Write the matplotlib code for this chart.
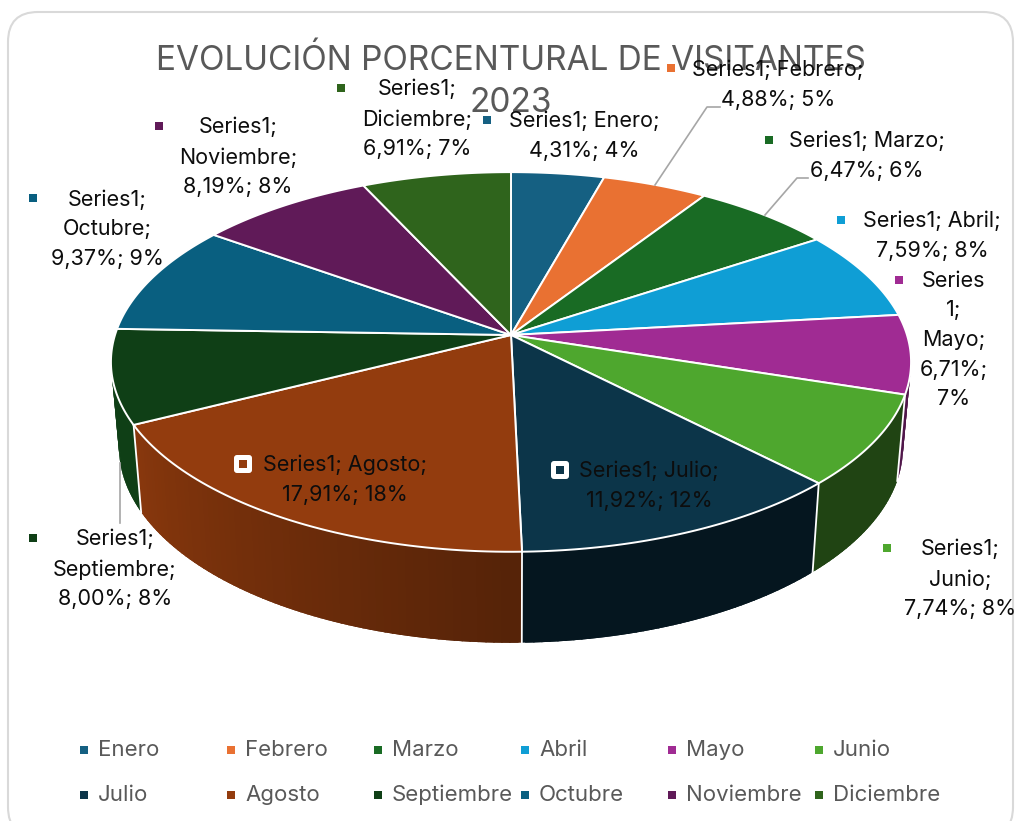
import numpy as np
import matplotlib
matplotlib.use("Agg")
import matplotlib.pyplot as plt
from matplotlib.collections import PolyCollection
from matplotlib.patches import FancyBboxPatch, Polygon

plt.rcParams['font.family'] = ['Inter', 'DejaVu Sans']

meses = ["Enero", "Febrero", "Marzo", "Abril", "Mayo", "Junio", "Julio",
         "Agosto", "Septiembre", "Octubre", "Noviembre", "Diciembre"]
porcentajes = [4.31, 4.88, 6.47, 7.59, 6.71, 7.74, 11.92, 17.91, 8.00, 9.37, 8.19, 6.91]
redondeados = [4, 5, 6, 8, 7, 8, 12, 18, 8, 9, 8, 7]
colores = ["#156082", "#E97132", "#196B24", "#0F9ED5", "#A02B93", "#4EA72E",
           "#0C3549", "#933C0E", "#0F3F16", "#095F80", "#601A58", "#2F641C"]
titulo = "EVOLUCIÓN PORCENTURAL DE VISITANTES\n2023"

# factor de oscuridad de la pared lateral (inicio, fin de cada porción)
sombra = [(.5, .5), (.5, .5), (.5, .5), (.5, .5), (.5, .5), (.41, .41),
          (.42, .42), (.58, .93), (1, 1), (1, 1), (1, 1), (1, 1)]

# texto de cada etiqueta: saltos de línea como en el original
etiquetas = ["Series1; Enero;\n{}", "Series1; Febrero;\n{}", "Series1; Marzo;\n{}",
             "Series1; Abril;\n{}", "Series\n1;\nMayo;\n{}", "Series1;\nJunio;\n{}",
             "Series1; Julio;\n{}", "Series1; Agosto;\n{}", "Series1;\nSeptiembre;\n{}",
             "Series1;\nOctubre;\n{}", "Series1;\nNoviembre;\n{}", "Series1;\nDiciembre;\n{}"]
pos_etiqueta = [(584, 136), (778, 85), (867, 156), (932, 236), (954, 340), (960, 579),
                (649, 486), (345, 480), (115, 569), (107, 229), (238, 157), (417, 119)]
pos_marca = [(487, 120), (671, 68), (769, 140), (841, 220), (899, 280), (887, 548),
             (560, 470), (243, 464), (33, 538), (33, 198), (159, 126), (341, 88)]

# proyección en perspectiva del disco
CX, CY, RX, RY, K = 511, 335, 396, 186, 0.142
ALTO, ESCALA_X, ESCALA_Y = 84.5, 0.98, 1.03

def proyectar(theta, abajo=False):
    t = np.radians(theta)
    d = 1 + K * np.cos(t)
    x = RX * np.sin(t) / d
    y = -RY * np.cos(t) / d
    if abajo:
        return CX + ESCALA_X * x, CY + ALTO + ESCALA_Y * y
    return CX + x, CY + y

fig = plt.figure(figsize=(10.15, 8.21), dpi=100, facecolor="white")
ax = fig.add_axes([0, 0, 1, 1])
ax.set_xlim(0, 1015)
ax.set_ylim(821, 0)
ax.axis("off")

ax.add_patch(FancyBboxPatch((8, 12), 1005, 825, boxstyle="round,pad=0,rounding_size=30",
                            fc="white", ec="#D9D9D9", lw=1.5, zorder=0))

bordes = np.concatenate([[0], np.cumsum(porcentajes)]) / np.sum(porcentajes) * 360

# paredes laterales, de atrás hacia delante; cada tramo pisa un poco al vecino
tramos = []
for i in range(len(meses)):
    n = max(int(bordes[i + 1] - bordes[i]), 2)
    th = np.linspace(bordes[i], bordes[i + 1], n + 1)
    base = np.array(matplotlib.colors.to_rgb(colores[i]))
    for j in range(n):
        s = sombra[i][0] + (sombra[i][1] - sombra[i][0]) * (j + .5) / n
        a = max(th[j] - .6, bordes[i])
        b = min(th[j + 1] + .6, bordes[i + 1])
        x1, y1 = proyectar(a)
        x2, y2 = proyectar(b)
        x3, y3 = proyectar(b, True)
        x4, y4 = proyectar(a, True)
        tramos.append((np.cos(np.radians(th[j])), [(x1, y1), (x2, y2), (x3, y3), (x4, y4)], base * s))
tramos.sort(key=lambda t: -t[0])
ax.add_collection(PolyCollection([t[1] for t in tramos], facecolors=[t[2] for t in tramos],
                                 edgecolors="none", zorder=2))

# separadores blancos en las paredes visibles
for b in bordes[1:-1]:
    if 100 < b < 260:
        x1, y1 = proyectar(b)
        x2, y2 = proyectar(b, True)
        ax.plot([x1, x2], [y1, y2], color="white", lw=1.3, zorder=3)

# cara superior
for i in range(len(meses)):
    th = np.linspace(bordes[i], bordes[i + 1], 60)
    x, y = proyectar(th)
    pts = np.column_stack([np.r_[CX, x], np.r_[CY, y]])
    ax.add_patch(Polygon(pts, closed=True, fc=colores[i], ec="white", lw=1.4, zorder=4))

# líneas guía
for lx, ly in [([655, 707, 720], [185, 107, 107]),
               ([765, 797, 808], [215, 178, 178]),
               ([120, 120], [463, 523])]:
    ax.plot(lx, ly, color="#A6A6A6", lw=1.2, zorder=5)

# etiquetas de datos
for i in range(len(meses)):
    valor = f"{porcentajes[i]:.2f}".replace(".", ",") + f"%; {redondeados[i]}%"
    if meses[i] == "Mayo":
        valor = valor.replace("; ", ";\n")
    ax.text(pos_etiqueta[i][0], pos_etiqueta[i][1], etiquetas[i].format(valor), ha="center",
            va="center", fontsize=15.5, linespacing=1.6, color="#0D0D0D", zorder=7)
    mx, my = pos_marca[i]
    if meses[i] in ("Julio", "Agosto"):
        ax.add_patch(FancyBboxPatch((mx - 7, my - 7), 14, 14, boxstyle="round,pad=2,rounding_size=3",
                                    fc="white", ec="none", zorder=7))
        ax.scatter([mx], [my], marker="s", s=40, color=colores[i], linewidths=0, zorder=8)
    else:
        ax.scatter([mx], [my], marker="s", s=32, color=colores[i], linewidths=0, zorder=7)

# título por encima del gráfico
ax.text(511, 82, titulo, ha="center", va="center", fontsize=24, linespacing=1.42,
        color="#595959", zorder=6)

# leyenda
col_marca = [84, 231, 378, 525, 672, 819]
fila_y = [750, 795]
for i, mes in enumerate(meses):
    x = col_marca[i % 6]
    y = fila_y[i // 6]
    ax.scatter([x], [y], marker="s", s=28, color=colores[i], linewidths=0, zorder=7)
    ax.text(x + 14, y, mes, ha="left", va="center", fontsize=16, color="#595959", zorder=7)

fig.savefig("out.png", dpi=100, facecolor="white")
